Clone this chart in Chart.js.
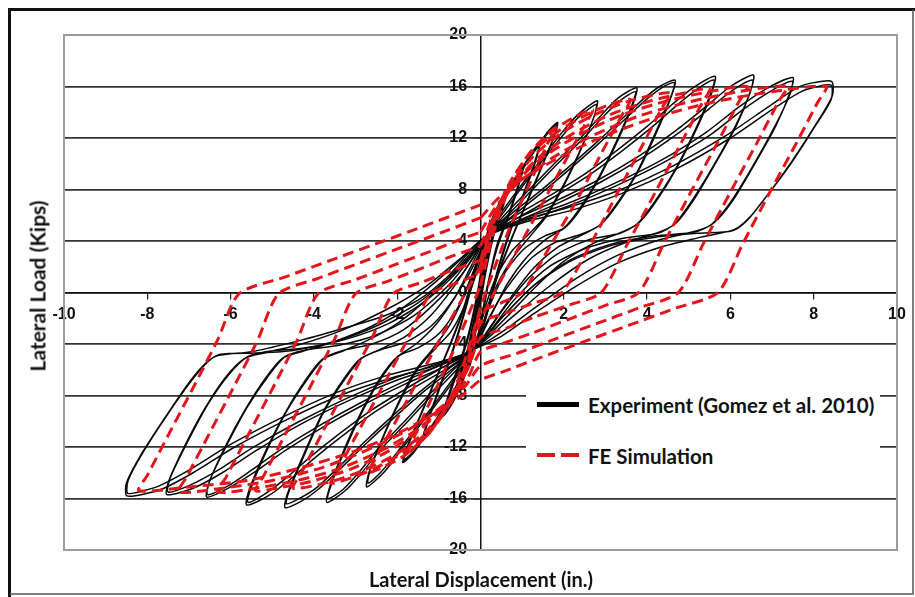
<!DOCTYPE html>
<html>
<head>
<meta charset="utf-8">
<script src="https://cdn.jsdelivr.net/npm/chart.js@4.4.1/dist/chart.umd.min.js"></script>
<style>
  html, body { margin: 0; padding: 0; background: #fff; }
  #wrap { position: relative; width: 915px; height: 597px; overflow: hidden; }
  #chart { position: absolute; left: 0; top: 0; }
  .txt { position: absolute; font-family: Lato, 'Open Sans', sans-serif; font-weight: 700; color: #111; white-space: nowrap; line-height: 1; }
  #xTitle { left: 481px; top: 579px; font-size: 20px; transform: translate(-50%, -50%); }
  #yTitle { left: 37px; top: 286px; font-size: 21px; transform: translate(-50%, -50%) rotate(-90deg); }
  #legendBox { position: absolute; left: 526px; top: 368px; width: 354px; height: 112px; background: #fff; }
  .key { position: absolute; }
  .keyText { position: absolute; font-size: 20.5px; transform: translateY(-50%); }
</style>
</head>
<body>
<div id="wrap">
  <canvas id="chart" width="915" height="597"></canvas>
  <div id="legendBox"></div>
  <div class="key" style="left:537px; top:402px; width:42px; height:5px; background:#000;"></div>
  <div class="txt keyText" style="left:588px; top:405px;">Experiment (Gomez et al. 2010)</div>
  <div class="key" style="left:537px; top:453px; width:18px; height:4px; background:#e3161b;"></div>
  <div class="key" style="left:561px; top:453px; width:18px; height:4px; background:#e3161b;"></div>
  <div class="txt keyText" style="left:588px; top:456px;">FE Simulation</div>
  <div class="txt" id="xTitle">Lateral Displacement (in.)</div>
  <div class="txt" id="yTitle">Lateral Load (Kips)</div>
</div>
<script>
// Axis ticks
const xTicks = [-10, -8, -6, -4, -2, 0, 2, 4, 6, 8, 10];
const yTicks = [-20, -16, -12, -8, -4, 0, 4, 8, 12, 16, 20];

// Experiment (Gomez et al. 2010) - one array per displacement amplitude, [disp (in.), load (kips)]
const expCycle1 = [[0,0],[0.08,2.2],[0.17,4.6],[0.22,5.4],[0.12,3.4],[0,0.4],[-0.1,-2.4],[-0.19,-4.6],[-0.24,-5.5],[-0.13,-3.3],[-0.02,-0.4],[0.1,2.5],[0.18,4.7],[0.23,5.6],[0.13,3.3],[0.01,0.2],[-0.11,-2.6],[-0.2,-4.7],[-0.25,-5.6],[-0.12,-3.0],[0,0]];
const expCycle2 = [[0,0],[0.12,3.6],[0.3,5.9],[0.5,7.1],[0.62,7.8],[0.52,6.7],[0.3,4.6],[0.1,1.6],[-0.08,-1.8],[-0.3,-5.6],[-0.48,-7.0],[-0.6,-7.8],[-0.5,-6.6],[-0.28,-4.4],[-0.08,-1.2],[0.1,2.2],[0.32,6.0],[0.52,7.3],[0.65,8.0],[0.55,6.8],[0.32,4.5],[0.12,1.5],[-0.06,-1.9],[-0.3,-5.8],[-0.5,-7.2],[-0.62,-8.0],[-0.52,-6.7],[-0.3,-4.3],[-0.1,-1.0],[0.15,4.4]];
const expCycle3 = [[0.15,4.4],[0.45,6.6],[0.75,8.4],[1.0,9.6],[0.92,8.4],[0.7,6.2],[0.42,3.8],[0.18,0.6],[-0.02,-2.8],[-0.15,-4.4],[-0.4,-6.6],[-0.65,-8.4],[-0.86,-9.4],[-0.78,-8.2],[-0.55,-6.0],[-0.3,-3.5],[-0.08,-0.2],[0.08,2.9],[0.15,4.4],[0.47,6.8],[0.78,8.6],[1.03,9.8],[0.94,8.6],[0.7,6.2],[0.4,3.5],[0.16,0.4],[-0.03,-3.0],[-0.15,-4.4],[-0.42,-6.8],[-0.68,-8.6],[-0.9,-9.6],[-0.8,-8.3],[-0.56,-6.0],[-0.3,-3.4],[-0.07,0],[0.08,3.0],[0.15,4.4],
  [0.43,6.4],[0.73,8.2],[0.98,9.4],[0.9,8.3],[0.68,6.1],[0.4,3.7],[0.2,0.9],[0.0,-2.6],[-0.15,-4.4],[-0.38,-6.4],[-0.63,-8.2],[-0.84,-9.2],[-0.76,-8.1],[-0.53,-5.9],[-0.28,-3.3],[-0.06,0.1],[0.09,3.1],[0.15,4.4]];
const expCycle4 = [[0.15,4.4],[0.5,6.9],[0.9,9.1],[1.2,10.6],[1.4,11.4],[1.3,10.1],[1.05,7.8],[0.72,4.9],[0.4,1.6],[0.1,-2.2],[-0.15,-4.4],[-0.48,-6.8],[-0.85,-9.0],[-1.15,-10.4],[-1.35,-11.2],[-1.25,-9.9],[-1.0,-7.6],[-0.68,-4.7],[-0.36,-1.3],[-0.06,2.4],[0.15,4.4],[0.52,7.0],[0.92,9.2],[1.22,10.8],[1.42,11.6],[1.32,10.2],[1.06,7.8],[0.72,4.8],[0.39,1.4],[0.09,-2.4],[-0.15,-4.4],[-0.5,-6.9],[-0.87,-9.1],[-1.17,-10.6],[-1.38,-11.4],[-1.27,-10.0],[-1.01,-7.6],[-0.68,-4.6],[-0.35,-1.1],[-0.05,2.5],[0.15,4.4]];
const expCycle5 = [[0.15,4.4],[0.5,6.8],[0.9,9.0],[1.3,11.0],[1.6,12.4],[1.85,13.2],[1.75,12.0],[1.45,9.6],[1.1,6.9],[0.75,4.2],[0.4,1.2],[0.1,-2.2],[-0.15,-4.4],[-0.5,-6.8],[-0.9,-9.0],[-1.3,-11.0],[-1.6,-12.4],[-1.86,-13.2],[-1.76,-12.0],[-1.45,-9.6],[-1.1,-6.9],[-0.75,-4.2],[-0.4,-1.2],[-0.1,2.2],[0.15,4.4],
  [0.52,6.9],[0.92,9.1],[1.32,11.1],[1.62,12.4],[1.84,13.0],[1.73,11.8],[1.42,9.4],[1.07,6.7],[0.72,4.0],[0.37,1.0],[0.07,-2.4],[-0.15,-4.4],[-0.52,-6.9],[-0.92,-9.1],[-1.32,-11.1],[-1.62,-12.4],[-1.84,-13.0],[-1.73,-11.8],[-1.42,-9.4],[-1.07,-6.7],[-0.72,-4.0],[-0.37,-1.0],[-0.07,2.4],[0.15,4.4]];
const expCycle6 = [[0.15,4.4],[0.5,6.2],[0.95,8.2],[1.45,10.3],[1.9,12.2],[2.3,13.7],[2.8,14.9],[2.75,13.9],[2.45,11.4],[2.05,8.6],[1.6,6.0],[1.2,4.4],[0.8,2.8],[0.4,0.6],[0.1,-2.0],[-0.15,-4.4],[-0.5,-6.2],[-0.95,-8.2],[-1.45,-10.3],[-1.9,-12.2],[-2.3,-13.9],[-2.73,-15.1],[-2.68,-14.0],[-2.38,-11.5],[-1.98,-8.6],[-1.55,-6.0],[-1.15,-4.4],[-0.75,-2.6],[-0.4,-0.3],[-0.1,2.2],[0.15,4.4],
  [0.55,6.2],[1.0,8.2],[1.5,10.3],[1.95,12.1],[2.35,13.6],[2.78,14.6],[2.72,13.6],[2.4,11.1],[2.0,8.4],[1.55,5.9],[1.15,4.5],[0.75,3.2],[0.35,1.0],[0.05,-1.8],[-0.15,-4.4],[-0.55,-6.2],[-1.0,-8.2],[-1.5,-10.3],[-1.95,-12.2],[-2.35,-13.8],[-2.7,-14.8],[-2.64,-13.7],[-2.33,-11.2],[-1.93,-8.4],[-1.5,-5.9],[-1.1,-4.4],[-0.7,-3.0],[-0.35,-0.8],[-0.05,2.0],[0.15,4.4]];
const expCycle7 = [[0.15,4.4],[0.6,6.1],[1.2,8.1],[1.8,10.1],[2.4,12.0],[2.85,13.6],[3.3,15.1],[3.75,15.9],[3.68,14.8],[3.35,12.2],[2.9,9.2],[2.45,6.7],[2.05,5.1],[1.6,4.2],[1.1,2.7],[0.65,0.7],[0.25,-1.8],[-0.15,-4.4],[-0.6,-6.1],[-1.2,-8.1],[-1.8,-10.2],[-2.4,-12.2],[-2.85,-14.0],[-3.25,-15.4],[-3.69,-16.3],[-3.62,-15.1],[-3.3,-12.4],[-2.85,-9.2],[-2.4,-6.6],[-2.0,-5.0],[-1.55,-4.0],[-1.05,-2.4],[-0.6,-0.3],[-0.2,2.2],[0.15,4.4],
  [0.65,6.0],[1.25,8.0],[1.85,10.0],[2.45,11.9],[2.9,13.5],[3.35,14.9],[3.72,15.6],[3.64,14.6],[3.3,12.0],[2.85,9.0],[2.4,6.6],[2.0,5.0],[1.55,4.4],[1.05,3.4],[0.6,1.6],[0.2,-1.2],[-0.15,-4.4],[-0.65,-6.0],[-1.25,-8.0],[-1.85,-10.1],[-2.45,-12.1],[-2.9,-13.9],[-3.3,-15.3],[-3.66,-16.0],[-3.58,-14.9],[-3.25,-12.2],[-2.8,-9.0],[-2.35,-6.5],[-1.95,-4.9],[-1.5,-4.3],[-1.0,-3.2],[-0.55,-1.2],[-0.15,1.8],[0.15,4.4]];
const expCycle8 = [[0.15,4.4],[0.7,6.0],[1.4,7.8],[2.1,9.7],[2.8,11.7],[3.4,13.5],[3.9,15.0],[4.3,16.0],[4.67,16.5],[4.6,15.4],[4.25,12.6],[3.8,9.5],[3.3,6.9],[2.9,5.3],[2.45,4.5],[1.85,3.5],[1.25,1.8],[0.7,-0.5],[0.25,-2.6],[-0.15,-4.4],[-0.7,-6.0],[-1.4,-7.8],[-2.1,-9.8],[-2.8,-11.9],[-3.4,-13.8],[-3.9,-15.3],[-4.3,-16.2],[-4.69,-16.7],[-4.62,-15.5],[-4.25,-12.6],[-3.8,-9.4],[-3.3,-6.8],[-2.9,-5.2],[-2.4,-4.4],[-1.8,-3.4],[-1.2,-1.8],[-0.65,0.4],[-0.2,2.6],[0.15,4.4],
  [0.75,5.9],[1.45,7.7],[2.15,9.6],[2.85,11.6],[3.45,13.4],[3.95,14.9],[4.35,15.9],[4.65,16.3],[4.57,15.2],[4.2,12.4],[3.75,9.3],[3.25,6.8],[2.85,5.2],[2.4,4.5],[1.8,3.9],[1.2,2.6],[0.6,0.2],[0.15,-2.3],[-0.15,-4.4],[-0.75,-5.9],[-1.45,-7.7],[-2.15,-9.7],[-2.85,-11.8],[-3.45,-13.7],[-3.95,-15.2],[-4.35,-16.0],[-4.66,-16.4],[-4.58,-15.3],[-4.2,-12.4],[-3.75,-9.2],[-3.25,-6.7],[-2.85,-5.1],[-2.35,-4.4],[-1.75,-3.8],[-1.15,-2.5],[-0.6,-0.3],[-0.15,2.2],[0.15,4.4]];
const expCycle9 = [[0.15,4.4],[0.8,5.9],[1.6,7.4],[2.5,9.2],[3.3,11.1],[4.0,12.9],[4.6,14.6],[5.1,15.9],[5.63,16.8],[5.56,15.6],[5.2,12.8],[4.7,9.6],[4.2,7.0],[3.8,5.4],[3.4,4.7],[2.7,3.8],[1.95,2.3],[1.25,0.2],[0.6,-2.0],[-0.15,-4.4],[-0.8,-5.9],[-1.6,-7.4],[-2.5,-9.2],[-3.3,-11.1],[-4.0,-12.9],[-4.6,-14.6],[-5.1,-15.8],[-5.61,-16.5],[-5.55,-15.3],[-5.2,-12.6],[-4.7,-9.4],[-4.2,-6.8],[-3.8,-5.2],[-3.35,-4.6],[-2.7,-3.7],[-1.95,-2.3],[-1.25,-0.4],[-0.55,1.9],[0.15,4.4],
  [0.9,5.8],[1.7,7.3],[2.6,9.1],[3.4,11.0],[4.1,12.8],[4.7,14.5],[5.2,15.8],[5.6,16.5],[5.52,15.4],[5.15,12.6],[4.65,9.4],[4.15,6.9],[3.75,5.3],[3.35,4.6],[2.6,4.1],[1.85,3.0],[1.15,1.1],[0.5,-1.5],[-0.15,-4.4],[-0.9,-5.8],[-1.7,-7.3],[-2.6,-9.1],[-3.4,-11.0],[-4.1,-12.8],[-4.7,-14.5],[-5.2,-15.7],[-5.58,-16.3],[-5.5,-15.1],[-5.15,-12.4],[-4.65,-9.2],[-4.15,-6.7],[-3.75,-5.1],[-3.3,-4.5],[-2.6,-4.0],[-1.85,-2.9],[-1.15,-1.0],[-0.45,1.4],[0.15,4.4]];
const expCycle10 = [[0.15,4.4],[0.9,5.8],[1.8,7.1],[2.8,8.7],[3.8,10.6],[4.7,12.6],[5.4,14.4],[6.0,16.0],[6.55,16.9],[6.5,15.8],[6.15,13.0],[5.6,9.8],[5.1,7.1],[4.7,5.4],[4.3,4.7],[3.5,3.9],[2.6,2.6],[1.7,0.6],[0.8,-1.8],[-0.15,-4.4],[-0.9,-5.8],[-1.8,-7.1],[-2.8,-8.7],[-3.8,-10.5],[-4.7,-12.3],[-5.4,-13.9],[-6.0,-15.1],[-6.57,-15.9],[-6.52,-14.8],[-6.15,-12.1],[-5.65,-9.1],[-5.15,-6.6],[-4.75,-5.1],[-4.3,-4.6],[-3.5,-3.8],[-2.6,-2.6],[-1.7,-0.8],[-0.8,1.6],[0.15,4.4],
  [1.0,5.7],[1.9,7.0],[2.9,8.6],[3.9,10.5],[4.8,12.5],[5.5,14.3],[6.05,15.7],[6.53,16.5],[6.47,15.5],[6.1,12.8],[5.55,9.6],[5.05,7.0],[4.65,5.3],[4.25,4.6],[3.4,4.2],[2.5,3.4],[1.6,1.9],[0.8,-0.6],[-0.15,-4.4],[-1.0,-5.7],[-1.9,-7.0],[-2.9,-8.6],[-3.9,-10.4],[-4.8,-12.2],[-5.5,-13.8],[-6.05,-15.0],[-6.55,-15.7],[-6.5,-14.6],[-6.1,-11.9],[-5.6,-8.9],[-5.1,-6.5],[-4.7,-5.0],[-4.25,-4.5],[-3.4,-4.1],[-2.5,-3.3],[-1.6,-1.8],[-0.7,0.8],[0.15,4.4]];
const expCycle11 = [[0.15,4.4],[1.0,5.7],[2.0,6.8],[3.1,8.3],[4.3,10.2],[5.4,12.4],[6.2,14.4],[6.9,15.9],[7.5,16.7],[7.45,15.7],[7.1,13.0],[6.55,9.8],[6.05,7.1],[5.6,5.4],[5.2,4.8],[4.3,4.1],[3.3,2.9],[2.3,1.1],[1.3,-1.2],[0.5,-3.1],[-0.15,-4.4],[-1.0,-5.7],[-2.0,-6.8],[-3.1,-8.3],[-4.3,-10.2],[-5.4,-12.3],[-6.2,-14.0],[-6.9,-15.2],[-7.53,-15.7],[-7.48,-14.6],[-7.1,-11.9],[-6.6,-8.9],[-6.1,-6.5],[-5.65,-5.1],[-5.2,-4.7],[-4.3,-4.0],[-3.3,-2.9],[-2.3,-1.4],[-1.3,0.5],[-0.5,2.6],[0.15,4.4],
  [1.1,5.6],[2.1,6.7],[3.2,8.2],[4.4,10.1],[5.5,12.2],[6.3,14.2],[7.0,15.7],[7.48,16.4],[7.43,15.4],[7.05,12.8],[6.5,9.6],[6.0,7.0],[5.55,5.3],[5.15,4.7],[4.2,4.4],[3.2,3.8],[2.2,2.6],[1.3,0.6],[0.5,-2.0],[-0.15,-4.4],[-1.1,-5.6],[-2.1,-6.7],[-3.2,-8.2],[-4.4,-10.1],[-5.5,-12.1],[-6.3,-13.8],[-7.0,-15.0],[-7.5,-15.5],[-7.45,-14.4],[-7.05,-11.7],[-6.55,-8.7],[-6.05,-6.4],[-5.6,-5.0],[-5.15,-4.6],[-4.2,-4.3],[-3.2,-3.6],[-2.2,-2.4],[-1.3,-0.6],[-0.5,1.8],[0.15,4.4]];
const expCycle12 = [[0.15,4.4],[1.0,5.6],[2.1,6.6],[3.3,7.9],[4.6,9.8],[5.9,12.2],[6.9,14.4],[7.6,15.9],[8.0,16.3],[8.43,16.4],[8.45,15.3],[8.1,13.3],[7.5,10.3],[6.9,7.6],[6.45,5.8],[6.1,4.9],[5.3,4.3],[4.3,3.5],[3.3,2.3],[2.3,0.5],[1.3,-1.6],[0.5,-3.4],[-0.15,-4.4],[-1.0,-5.6],[-2.1,-6.6],[-3.3,-7.9],[-4.6,-9.8],[-5.9,-12.0],[-6.9,-14.0],[-7.6,-15.2],[-8.0,-15.6],[-8.49,-15.8],[-8.5,-14.8],[-8.15,-12.6],[-7.55,-9.6],[-7.0,-7.0],[-6.6,-5.5],[-6.3,-4.9],[-5.5,-4.6],[-4.3,-3.7],[-3.2,-2.7],[-2.3,-1.8],[-1.5,-0.6],[-0.8,1.2],[-0.2,3.4],[0.15,4.4],
  [1.1,5.5],[2.2,6.4],[3.4,7.7],[4.7,9.6],[6.0,12.0],[7.0,14.2],[7.7,15.6],[8.1,16.0],[8.42,16.1],[8.42,15.0],[8.05,13.0],[7.45,10.0],[6.85,7.4],[6.4,5.6],[6.05,4.8],[5.2,4.6],[4.2,4.3],[3.2,3.7],[2.2,2.5],[1.3,0.6],[0.5,-2.0],[-0.15,-4.4],[-1.1,-5.5],[-2.2,-6.4],[-3.4,-7.7],[-4.7,-9.6],[-6.0,-11.8],[-7.0,-13.8],[-7.7,-15.0],[-8.1,-15.4],[-8.47,-15.6],[-8.46,-14.6],[-8.1,-12.4],[-7.5,-9.4],[-6.95,-6.9],[-6.55,-5.4],[-6.25,-4.8],[-5.4,-4.7],[-4.5,-4.5],[-3.5,-3.8],[-2.5,-2.6],[-1.5,-0.8],[-0.6,1.6],[0.15,4.4]];

// FE Simulation - one array per amplitude, [disp (in.), load (kips)]
const feCycle1 = [[0,0.5],[0.3,4.5],[0.7,8.2],[1.2,10.9],[1.8,12.8],[1.6,11.5],[1.2,8.6],[0.7,5.0],[0.3,1.6],[0,-1.2],[-0.3,-4.5],[-0.7,-8.1],[-1.2,-10.8],[-1.8,-12.6],[-1.6,-11.3],[-1.2,-8.4],[-0.7,-4.9],[-0.3,-1.8],[0,0.5]];
const feCycle2 = [[0,0.5],[0.3,5.0],[0.7,8.4],[1.2,10.9],[1.8,12.7],[2.3,13.7],[2.7,14.2],[2.5,13.0],[2.0,10.0],[1.4,6.4],[0.8,2.8],[0.3,-0.2],[0,-2.2],[-0.3,-5.4],[-0.7,-8.4],[-1.2,-10.8],[-1.8,-12.6],[-2.3,-13.5],[-2.7,-14.0],[-2.5,-12.8],[-2.0,-9.8],[-1.4,-6.2],[-0.8,-2.6],[-0.3,0.3],[0,2.0]];
const feCycle3 = [[0,2.0],[0.3,5.6],[0.7,8.5],[1.2,10.8],[1.9,12.6],[2.6,13.9],[3.1,14.6],[3.6,15.0],[3.4,13.8],[2.9,10.8],[2.3,7.1],[1.6,3.2],[1.0,0],[0.5,-0.8],[0,-1.6],[-0.25,-4.6],[-0.6,-7.8],[-1.1,-10.3],[-1.8,-12.3],[-2.5,-13.6],[-3.1,-14.4],[-3.6,-14.8],[-3.4,-13.6],[-2.9,-10.6],[-2.3,-7.0],[-1.7,-3.3],[-1.2,-0.1],[-0.6,0.7],[0,1.5]];
const feCycle4 = [[0,1.5],[0.3,5.3],[0.7,8.2],[1.3,10.7],[2.0,12.5],[2.8,13.9],[3.6,14.9],[4.55,15.5],[4.35,14.3],[3.85,11.2],[3.25,7.5],[2.6,3.5],[1.95,0],[1.3,-0.8],[0.6,-1.6],[0,-2.4],[-0.25,-5.3],[-0.65,-8.2],[-1.25,-10.6],[-2.0,-12.5],[-2.8,-13.8],[-3.6,-14.7],[-4.5,-15.2],[-4.3,-14.0],[-3.8,-10.9],[-3.2,-7.2],[-2.6,-3.5],[-2.1,-0.1],[-1.4,0.8],[-0.7,1.7],[0,2.5]];
const feCycle5 = [[0,2.5],[0.3,5.7],[0.75,8.2],[1.4,10.5],[2.2,12.3],[3.1,13.8],[4.1,14.9],[4.9,15.5],[5.5,15.8],[5.3,14.6],[4.8,11.5],[4.2,7.8],[3.5,3.6],[2.9,0],[2.1,-1.0],[1.3,-1.9],[0.6,-2.8],[0,-3.5],[-0.3,-5.9],[-0.75,-8.3],[-1.4,-10.5],[-2.2,-12.3],[-3.1,-13.7],[-4.1,-14.7],[-4.9,-15.2],[-5.4,-15.4],[-5.2,-14.2],[-4.7,-11.1],[-4.1,-7.4],[-3.5,-3.6],[-3.0,-0.1],[-2.2,0.9],[-1.4,1.9],[-0.7,2.8],[0,3.6]];
const feCycle6 = [[0,3.6],[0.35,6.2],[0.8,8.4],[1.5,10.5],[2.4,12.3],[3.4,13.8],[4.5,14.9],[5.5,15.6],[6.4,16.0],[6.2,14.8],[5.7,11.7],[5.05,7.8],[4.4,3.8],[3.8,0],[3.0,-1.0],[2.1,-2.1],[1.2,-3.2],[0.5,-4.0],[0,-4.6],[-0.3,-6.6],[-0.8,-8.6],[-1.5,-10.6],[-2.4,-12.3],[-3.4,-13.7],[-4.4,-14.6],[-5.4,-15.2],[-6.3,-15.5],[-6.1,-14.3],[-5.6,-11.2],[-5.0,-7.5],[-4.4,-3.7],[-3.9,-0.1],[-3.0,1.0],[-2.1,2.1],[-1.2,3.2],[-0.5,4.1],[0,4.7]];
const feCycle7 = [[0,4.7],[0.4,6.8],[0.9,8.5],[1.7,10.4],[2.7,12.2],[3.8,13.7],[5.0,14.8],[6.2,15.6],[7.35,16.0],[7.15,14.8],[6.65,11.7],[6.0,7.8],[5.35,3.8],[4.75,0],[3.8,-1.2],[2.8,-2.4],[1.8,-3.6],[0.9,-4.7],[0,-5.7],[-0.35,-7.2],[-0.9,-8.8],[-1.7,-10.6],[-2.7,-12.2],[-3.8,-13.6],[-5.0,-14.6],[-6.2,-15.2],[-7.25,-15.5],[-7.05,-14.3],[-6.55,-11.2],[-5.95,-7.5],[-5.35,-3.7],[-4.85,-0.1],[-3.9,1.1],[-2.9,2.3],[-1.9,3.5],[-0.9,4.7],[0,5.8]];
const feCycle8 = [[0,5.8],[0.45,7.4],[1.0,8.8],[1.9,10.5],[3.0,12.2],[4.3,13.7],[5.6,14.8],[7.0,15.6],[8.3,16.0],[8.1,14.8],[7.6,11.7],[6.95,7.8],[6.3,3.8],[5.7,0],[4.7,-1.2],[3.6,-2.5],[2.5,-3.8],[1.4,-5.1],[0.5,-6.2],[0,-6.8],[-0.4,-7.9],[-1.0,-9.2],[-1.9,-10.8],[-3.0,-12.3],[-4.3,-13.6],[-5.6,-14.6],[-7.0,-15.1],[-8.2,-15.4],[-8.0,-14.2],[-7.5,-11.1],[-6.9,-7.4],[-6.3,-3.6],[-5.8,-0.1],[-4.7,1.2],[-3.6,2.5],[-2.5,3.8],[-1.4,5.1],[-0.5,6.2],[0,6.8]];

const expCycles = [expCycle1, expCycle2, expCycle3, expCycle4, expCycle5, expCycle6, expCycle7, expCycle8, expCycle9, expCycle10, expCycle11, expCycle12];
const feCycles = [feCycle1, feCycle2, feCycle3, feCycle4, feCycle5, feCycle6, feCycle7, feCycle8];

// frame round the whole figure and grey box round the plot area
const framePlugin = {
  id: 'frame',
  beforeDraw(chart) {
    const ctx = chart.ctx;
    ctx.save();
    ctx.fillStyle = '#fff';
    ctx.fillRect(0, 0, chart.width, chart.height);
    ctx.restore();
  },
  beforeDatasetsDraw(chart) {
    const { ctx, chartArea: a } = chart;
    ctx.save();
    ctx.strokeStyle = '#9c9c9c';
    ctx.lineWidth = 2;
    ctx.strokeRect(a.left, a.top, a.right - a.left, a.bottom - a.top);
    ctx.restore();
  },
  afterDraw(chart) {
    const ctx = chart.ctx;
    ctx.save();
    ctx.strokeStyle = '#111';
    ctx.lineWidth = 3;
    ctx.beginPath();
    ctx.moveTo(9.5, 597); ctx.lineTo(9.5, 9.5); ctx.lineTo(915, 9.5);
    ctx.stroke();
    ctx.strokeStyle = '#555';
    ctx.lineWidth = 1.5;
    ctx.beginPath();
    ctx.moveTo(913, 9.5); ctx.lineTo(913, 594); ctx.lineTo(9.5, 594);
    ctx.stroke();
    ctx.restore();
  }
};

const datasets = [];
feCycles.forEach((c, i) => datasets.push({
  label: 'FE Simulation ' + (i + 1),
  data: c,
  showLine: true,
  borderColor: '#e3161b',
  borderWidth: 3,
  borderDash: [11, 6],
  pointRadius: 0,
  tension: 0.25,
  order: 1
}));
expCycles.forEach((c, i) => datasets.push({
  label: 'Experiment ' + (i + 1),
  data: c,
  showLine: true,
  borderColor: '#0a0a0a',
  borderWidth: i < 5 ? 1.8 : 1.5,
  pointRadius: 0,
  tension: 0.25,
  order: 2
}));

const tickFont = { family: "'Liberation Sans', Arial, sans-serif", weight: 'bold', size: 16 };

new Chart(document.getElementById('chart'), {
  type: 'scatter',
  data: { datasets },
  options: {
    responsive: false,
    animation: false,
    events: [],
    layout: { padding: { left: 64, top: 35, right: 18, bottom: 47 } },
    plugins: { legend: { display: false }, tooltip: { enabled: false } },
    scales: {
      x: {
        type: 'linear',
        position: { y: 0 },
        min: -10,
        max: 10,
        afterBuildTicks: (s) => { s.ticks = xTicks.map(v => ({ value: v })); },
        grid: { drawOnChartArea: false, drawTicks: true, tickLength: 6, color: '#222', lineWidth: 1.2 },
        border: { display: true, color: '#111', width: 1.5 },
        ticks: { font: tickFont, color: '#111', padding: 6, autoSkip: false, maxRotation: 0 }
      },
      y: {
        type: 'linear',
        position: { x: 0 },
        min: -20,
        max: 20,
        afterBuildTicks: (s) => { s.ticks = yTicks.map(v => ({ value: v })); },
        grid: {
          drawTicks: true,
          tickLength: 7,
          lineWidth: 1.7,
          color: (c) => Math.abs(c.tick.value) === 20 ? '#9c9c9c' : '#333'
        },
        border: { display: true, color: '#111', width: 1.5 },
        // labels of an axis placed at x = 0 sit on the axis line, so pad them away from it
        ticks: { font: tickFont, color: '#111', autoSkip: false, callback: (v) => v + '   ' }
      }
    }
  },
  plugins: [framePlugin]
});
</script>
</body>
</html>
